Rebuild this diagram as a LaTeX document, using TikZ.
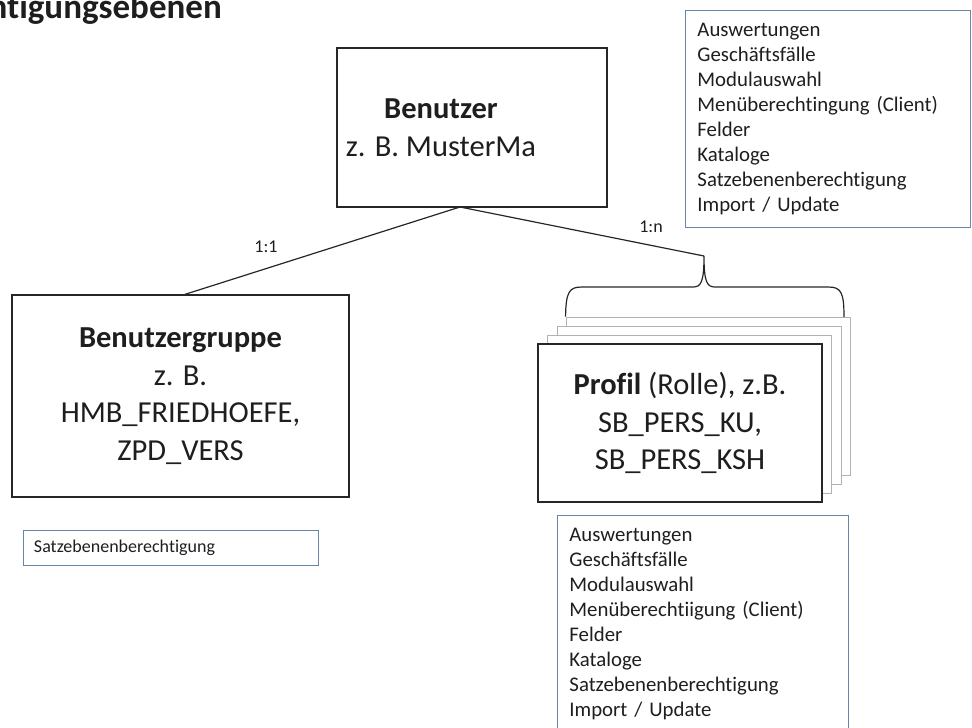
\documentclass[tikz,border=0pt]{standalone}
\usepackage{fontspec}
\setmainfont{Carlito}[Ligatures={NoCommon}]
\usepackage{xcolor}
\usetikzlibrary{positioning}

\definecolor{listblau}{RGB}{104,134,170}
\definecolor{schrift}{RGB}{30,30,30}

\begin{document}
\begin{tikzpicture}[
  x=1pt, y=-1pt,
  every node/.style={text=schrift},
  haupt/.style={draw=black!85, line width=1.3pt, fill=white, align=center, inner sep=0pt,
    font=\fontsize{30.5}{37.5}\selectfont},
  lage/.style={draw=black!30, line width=0.9pt, fill=white, minimum width=284, minimum height=158, inner sep=0pt},
  liste/.style={draw=listblau, line width=0.9pt, align=left, inner xsep=12, inner ysep=0pt,
    font=\fontsize{20.8}{25}\selectfont},
  link/.style={draw=black!85, line width=1.2pt},
  rel/.style={font=\fontsize{18}{20}\selectfont, inner sep=0pt}
]
\useasboundingbox (0,0) rectangle (972,728);

% Titel (links angeschnitten)
\node[anchor=base east, inner sep=0pt, font=\fontsize{35}{40}\selectfont\bfseries] (titel) at (222,19) {Berechtigungsebenen};

% Benutzer
\node[haupt, minimum width=270, minimum height=159,
  label={[xshift=-31, align=center, font=\fontsize{30.5}{37.5}\selectfont]center:{\textbf{Benutzer}\\z. B. MusterMa}}]
  (benutzer) at (472,127.5) {};
\coordinate (fuss) at (460,207);

% Benutzergruppe
\node[haupt, minimum width=337, minimum height=202] (gruppe) at (180.5,396)
  {\textbf{Benutzergruppe}\\z. B.\\HMB\_FRIEDHOEFE,\\ZPD\_VERS};
\node[liste, minimum width=295, minimum height=35, text width=273, inner xsep=11,
  font=\fontsize{18}{22}\selectfont] (satz) at (170.5,547.5) {Satzebenenberechtigung};

% Profile (gestapelt)
\node[lage] (lage3) at (708,396) {};
\node[lage] (lage2) at (699,405) {};
\node[lage] (lage1) at (689,414) {};
\node[haupt, minimum width=284, minimum height=158] (profil) at (680,423)
  {\textbf{Profil} (Rolle), z.B.\\SB\_PERS\_KU,\\SB\_PERS\_KSH};

% Klammer ueber den Profilen
\coordinate (spitze) at (704,256);
\draw[link] (lage3.north west) .. controls (566,292) and (569,287) .. (582,287)
  -- (693,287) .. controls (701,287) and (704,282) .. (spitze)
  .. controls (704,282) and (707,287) .. (715,287)
  -- (828,287) .. controls (841,287) and (844,292) .. (844,317);

% Verbindungen
\draw[link] (fuss) -- ([xshift=4.5]gruppe.north);
\draw[link] (fuss) -- (spitze);
\node[rel] (r11) at (266,247) {1:1};
\node[rel] (r1n) at (651,227) {1:n};

% Rechte-Listen
\node[liste, anchor=north west, minimum width=285, minimum height=217, text width=261] (rechteoben) at (685,10)
  {Auswertungen\\Geschäftsfälle\\Modulauswahl\\Menüberechtingung (Client)\\Felder\\Kataloge\\Satzebenenberechtigung\\Import / Update};
\node[liste, anchor=north west, minimum width=291, minimum height=217, text width=267] (rechteunten) at (557,515)
  {Auswertungen\\Geschäftsfälle\\Modulauswahl\\Menüberechtiigung (Client)\\Felder\\Kataloge\\Satzebenenberechtigung\\Import / Update};
\end{tikzpicture}
\end{document}
